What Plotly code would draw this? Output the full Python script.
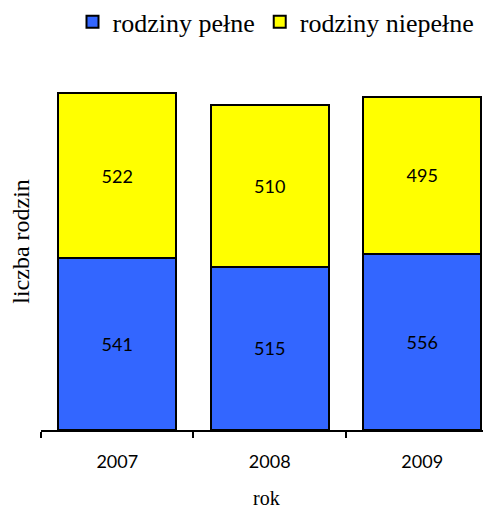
import plotly.graph_objects as go

years = ["2007", "2008", "2009"]
pelne = [541, 515, 556]
niepelne = [522, 510, 495]

SERIF = "Times New Roman, Liberation Serif, serif"
SANS = "Lato, Carlito, sans-serif"

# the page body keeps its default 8px margin, so the figure is 8px smaller
fig = go.Figure()
fig.add_trace(go.Bar(
    x=years, y=pelne, name="rodziny pełne",
    marker=dict(color="#3366FF", line=dict(color="black", width=2)),
    text=pelne, textposition="inside", insidetextanchor="middle", textangle=0,
    textfont=dict(family=SANS, size=18, color="black"),
))
fig.add_trace(go.Bar(
    x=years, y=niepelne, name="rodziny niepełne",
    marker=dict(color="#FFFF00", line=dict(color="black", width=2)),
    text=niepelne, textposition="inside", insidetextanchor="middle", textangle=0,
    textfont=dict(family=SANS, size=18, color="black"),
))

fig.update_layout(
    barmode="stack",
    bargap=0.225,
    width=483, height=501,
    margin=dict(l=33, r=0, t=72, b=79, autoexpand=False),
    plot_bgcolor="white", paper_bgcolor="white",
    font=dict(family=SERIF, color="black"),
    showlegend=True,
    legend=dict(
        orientation="h", x=0.07, xanchor="left", y=1.166, yanchor="middle",
        font=dict(family=SERIF, size=26), traceorder="normal",
        itemwidth=30,
    ),
    xaxis=dict(
        type="category", range=[-0.5, 2.451], automargin=False,
        showline=True, linecolor="black", linewidth=2,
        ticks="outside", tickson="boundaries", ticklen=6, tickwidth=2, tickcolor="black",
        tickfont=dict(family=SANS, size=18), ticklabelstandoff=14,
    ),
    yaxis=dict(
        range=[0, 1104], showticklabels=False, showgrid=False, zeroline=False,
        showline=False, ticks="", automargin=False,
    ),
    annotations=[
        dict(text="rok", xref="paper", yref="paper", x=0.5, y=-0.195,
             xanchor="center", yanchor="middle", showarrow=False,
             font=dict(family=SERIF, size=20)),
        dict(text="liczba rodzin", xref="paper", yref="paper",
             x=-0.045, y=0.54, textangle=-90,
             xanchor="center", yanchor="middle", showarrow=False,
             font=dict(family=SERIF, size=24)),
    ],
)

fig.write_html("out.html")
